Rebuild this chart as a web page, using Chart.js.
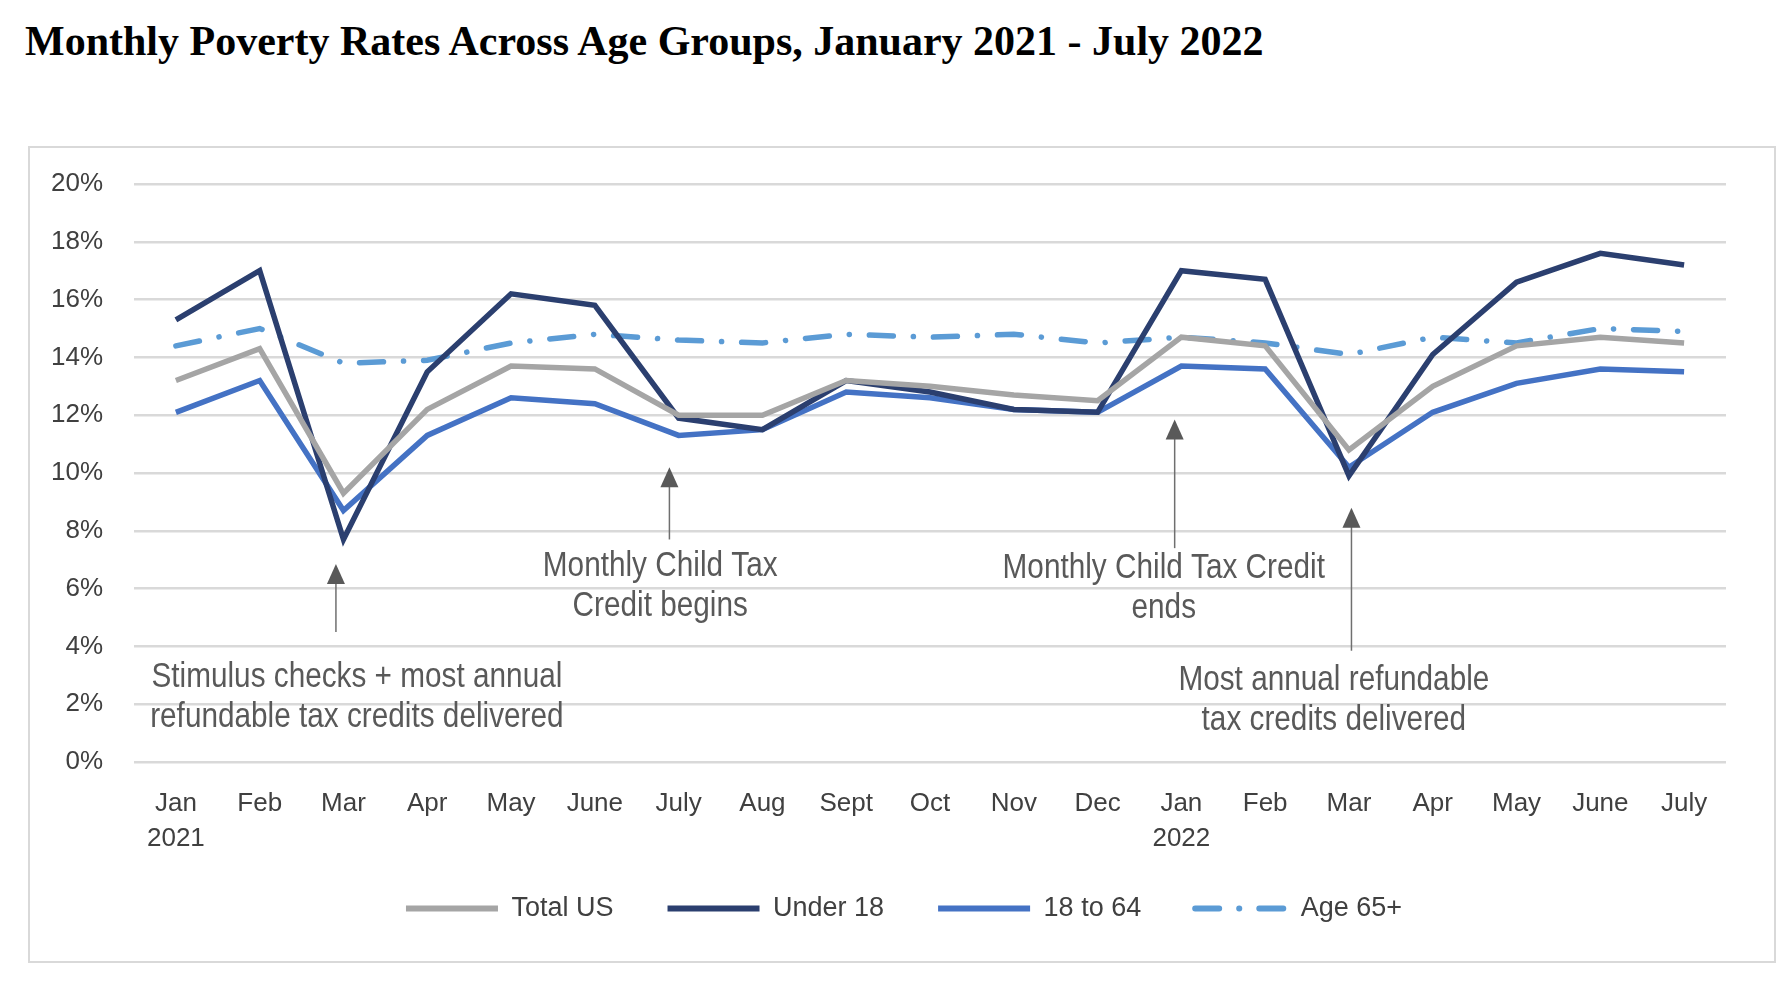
<!DOCTYPE html>
<html>
<head>
<meta charset="utf-8">
<script src="https://cdn.jsdelivr.net/npm/chart.js@4"></script>
<style>
  body { margin: 0; background: #fff; width: 1792px; height: 986px; position: relative; overflow: hidden; }
  #title { position: absolute; left: 25px; top: 17px; font-family: 'Liberation Serif', serif; font-weight: bold; font-size: 42px; color: #000; white-space: nowrap; }
  #box { position: absolute; left: 28px; top: 146px; width: 1744px; height: 813px; border: 2px solid #d9d9d9; }
</style>
</head>
<body>
<div id="title">Monthly Poverty Rates Across Age Groups, January 2021 - July 2022</div>
<div id="box"><canvas id="povertyChart"></canvas></div>
<script>
const months = [['Jan', '2021'], 'Feb', 'Mar', 'Apr', 'May', 'June', 'July', 'Aug', 'Sept', 'Oct', 'Nov', 'Dec',
    ['Jan', '2022'], 'Feb', 'Mar', 'Apr', 'May', 'June', 'July'];

const totalUS = [13.2, 14.3, 9.3, 12.2, 13.7, 13.6, 12.0, 12.0, 13.2, 13.0, 12.7, 12.5, 14.7, 14.4, 10.8, 13.0, 14.4, 14.7, 14.5];
const under18 = [15.3, 17.0, 7.7, 13.5, 16.2, 15.8, 11.9, 11.5, 13.2, 12.8, 12.2, 12.1, 17.0, 16.7, 9.9, 14.1, 16.6, 17.6, 17.2];
const age18to64 = [12.1, 13.2, 8.7, 11.3, 12.6, 12.4, 11.3, 11.5, 12.8, 12.6, 12.2, 12.1, 13.7, 13.6, 10.2, 12.1, 13.1, 13.6, 13.5];
const age65plus = [14.4, 15.0, 13.8, 13.9, 14.5, 14.8, 14.6, 14.5, 14.8, 14.7, 14.8, 14.5, 14.7, 14.5, 14.1, 14.7, 14.5, 15.0, 14.9];

// annotation arrows: category position, tail value, tip value
const arrows = [
    {x: 1.91, from: 4.5, to: 6.85},
    {x: 5.89, from: 7.7, to: 10.2},
    {x: 11.92, from: 7.4, to: 11.85},
    {x: 14.03, from: 3.85, to: 8.8}
];

// annotation texts: centre category position, value of first line
const notes = [
    {x: 2.16, y: 2.93, lines: ['Stimulus checks + most annual', 'refundable tax credits delivered']},
    {x: 5.78, y: 6.77, lines: ['Monthly Child Tax', 'Credit begins']},
    {x: 11.79, y: 6.69, lines: ['Monthly Child Tax Credit', 'ends']},
    {x: 13.82, y: 2.81, lines: ['Most annual refundable', 'tax credits delivered']}
];

const sans = "'Liberation Sans Narrow', 'Arial Narrow', 'Liberation Sans', Arial, sans-serif";

const annotationPlugin = {
    id: 'notes',
    afterLayout(chart) {
        // legend sits a little right of centre and tucks under the year labels
        chart.legend.left += 26;
        chart.legend.right += 26;
        chart.legend.top -= 17;
        chart.legend.bottom -= 17;
    },
    afterDatasetsDraw(chart) {
        const ctx = chart.ctx;
        const xs = chart.scales.x, ys = chart.scales.y;
        const step = xs.getPixelForValue(1) - xs.getPixelForValue(0);
        const px = v => xs.getPixelForValue(0) + v * step;
        ctx.save();
        arrows.forEach(a => {
            const x = px(a.x), y0 = ys.getPixelForValue(a.from), y1 = ys.getPixelForValue(a.to);
            ctx.strokeStyle = '#6f6f6f';
            ctx.lineWidth = 1.5;
            ctx.beginPath();
            ctx.moveTo(x, y0);
            ctx.lineTo(x, y1 + 18);
            ctx.stroke();
            ctx.fillStyle = '#595959';
            ctx.beginPath();
            ctx.moveTo(x, y1);
            ctx.lineTo(x - 9, y1 + 20);
            ctx.lineTo(x + 9, y1 + 20);
            ctx.closePath();
            ctx.fill();
        });
        // squeeze the notes sideways, the source used a narrow face
        ctx.fillStyle = '#595959';
        ctx.font = '35px ' + sans;
        ctx.textAlign = 'center';
        ctx.textBaseline = 'middle';
        notes.forEach(n => {
            const x = px(n.x), y = ys.getPixelForValue(n.y);
            n.lines.forEach((t, i) => {
                ctx.save();
                ctx.translate(x, y + i * 40);
                ctx.scale(0.85, 1);
                ctx.fillText(t, 0, 0);
                ctx.restore();
            });
        });
        ctx.restore();
    }
};

new Chart(document.getElementById('povertyChart'), {
    type: 'line',
    data: {
        labels: months,
        datasets: [
            {label: 'Total US', data: totalUS, borderColor: '#a5a5a5', backgroundColor: '#a5a5a5', borderWidth: 5.5, pointRadius: 0, tension: 0},
            {label: 'Under 18', data: under18, borderColor: '#2b3f6f', backgroundColor: '#2b3f6f', borderWidth: 5.5, pointRadius: 0, tension: 0},
            {label: '18 to 64', data: age18to64, borderColor: '#4472c4', backgroundColor: '#4472c4', borderWidth: 5.5, pointRadius: 0, tension: 0},
            {label: 'Age 65+', data: age65plus, borderColor: '#5b9bd5', backgroundColor: '#5b9bd5', borderWidth: 5.5, pointRadius: 0, tension: 0,
                borderDash: [24, 20, 0.1, 20], borderCapStyle: 'round'}
        ]
    },
    options: {
        maintainAspectRatio: false,
        responsive: true,
        animation: false,
        layout: {padding: {top: 36, right: 48, bottom: 12, left: 0}},
        scales: {
            y: {
                min: 0,
                max: 20,
                ticks: {stepSize: 2, padding: 0, color: '#404040', font: {family: sans, size: 26}, callback: v => v + '%'},
                grid: {color: '#d9d9d9', lineWidth: 2.5, drawTicks: true, tickLength: 31, tickColor: 'rgba(0,0,0,0)'},
                border: {display: false},
                afterFit: s => { s.width = 104; }
            },
            x: {
                offset: true,
                ticks: {padding: 24, color: '#404040', maxRotation: 0, autoSkip: false, font: {family: sans, size: 26, lineHeight: 1.35}},
                grid: {display: false, drawTicks: false},
                border: {display: false},
                afterFit: s => { s.height = 96; }
            }
        },
        plugins: {
            legend: {
                position: 'bottom',
                labels: {
                    usePointStyle: true,
                    pointStyle: 'line',
                    pointStyleWidth: 92,
                    padding: 54,
                    color: '#404040',
                    font: {family: sans, size: 27},
                    generateLabels: chart => Chart.defaults.plugins.legend.labels.generateLabels(chart).map(item => {
                        const ds = chart.data.datasets[item.datasetIndex];
                        item.lineDash = ds.borderDash || [];
                        item.lineCap = ds.borderCapStyle || 'butt';
                        item.lineWidth = 6;
                        item.strokeStyle = ds.borderColor;
                        item.pointStyle = 'line';
                        return item;
                    })
                }
            },
            tooltip: {enabled: false}
        }
    },
    plugins: [annotationPlugin]
});
</script>
</body>
</html>
